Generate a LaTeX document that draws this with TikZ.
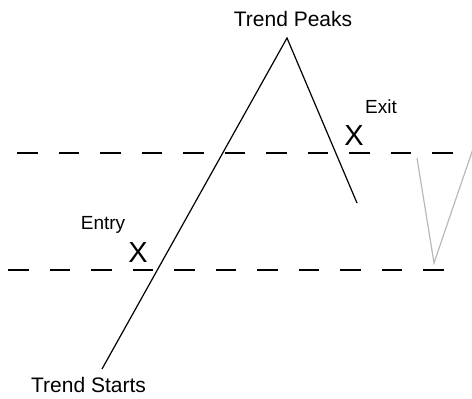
\documentclass[tikz,border=0pt]{standalone}
\usepackage{fontspec}
\setmainfont{Liberation Sans}
\begin{document}
\begin{tikzpicture}[x=1pt,y=-1pt,
  trendline/.style={line width=1.2pt},
  levelline/.style={line width=1.6pt,dash pattern=on 20.5pt off 21pt},
  bigtext/.style={inner sep=0pt,anchor=base,font=\fontsize{21}{24}\selectfont},
  smalltext/.style={inner sep=0pt,anchor=base,font=\fontsize{19}{22}\selectfont},
  crossmark/.style={inner sep=0pt,anchor=base,font=\fontsize{29}{32}\selectfont}]
\definecolor{trend_ghost}{RGB}{185,185,185}
\useasboundingbox (0,0) rectangle (472,399);
\coordinate (trend_start) at (102,369);
\coordinate (trend_peak) at (287,38);
\coordinate (trend_drop) at (357,203);
\coordinate (hi_left) at (17,153);
\coordinate (hi_right) at (453,153);
\coordinate (lo_left) at (8,270);
\coordinate (lo_right) at (444,270);
\coordinate (ghost_top) at (417,158);
\coordinate (ghost_low) at (434,263);
\coordinate (ghost_end) at (475,143);
% levels
\draw[levelline] (hi_left) to (hi_right);
\draw[levelline] (lo_left) to (lo_right);
% the trend
\draw[trendline] (trend_start) to (trend_peak) to (trend_drop);
\draw[line width=1.2pt,color=trend_ghost] (ghost_top) to (ghost_low) to (ghost_end);
% labels
\node[bigtext] (peaks) at (293,26) {Trend Peaks};
\node[bigtext] (starts) at (88.5,392) {Trend Starts};
\node[smalltext] (entry) at (103,229) {Entry};
\node[smalltext] (exit) at (381,113) {Exit};
\node[crossmark] (entry_x) at (138,262) {X};
\node[crossmark] (exit_x) at (354,145) {X};
\end{tikzpicture}
\end{document}
